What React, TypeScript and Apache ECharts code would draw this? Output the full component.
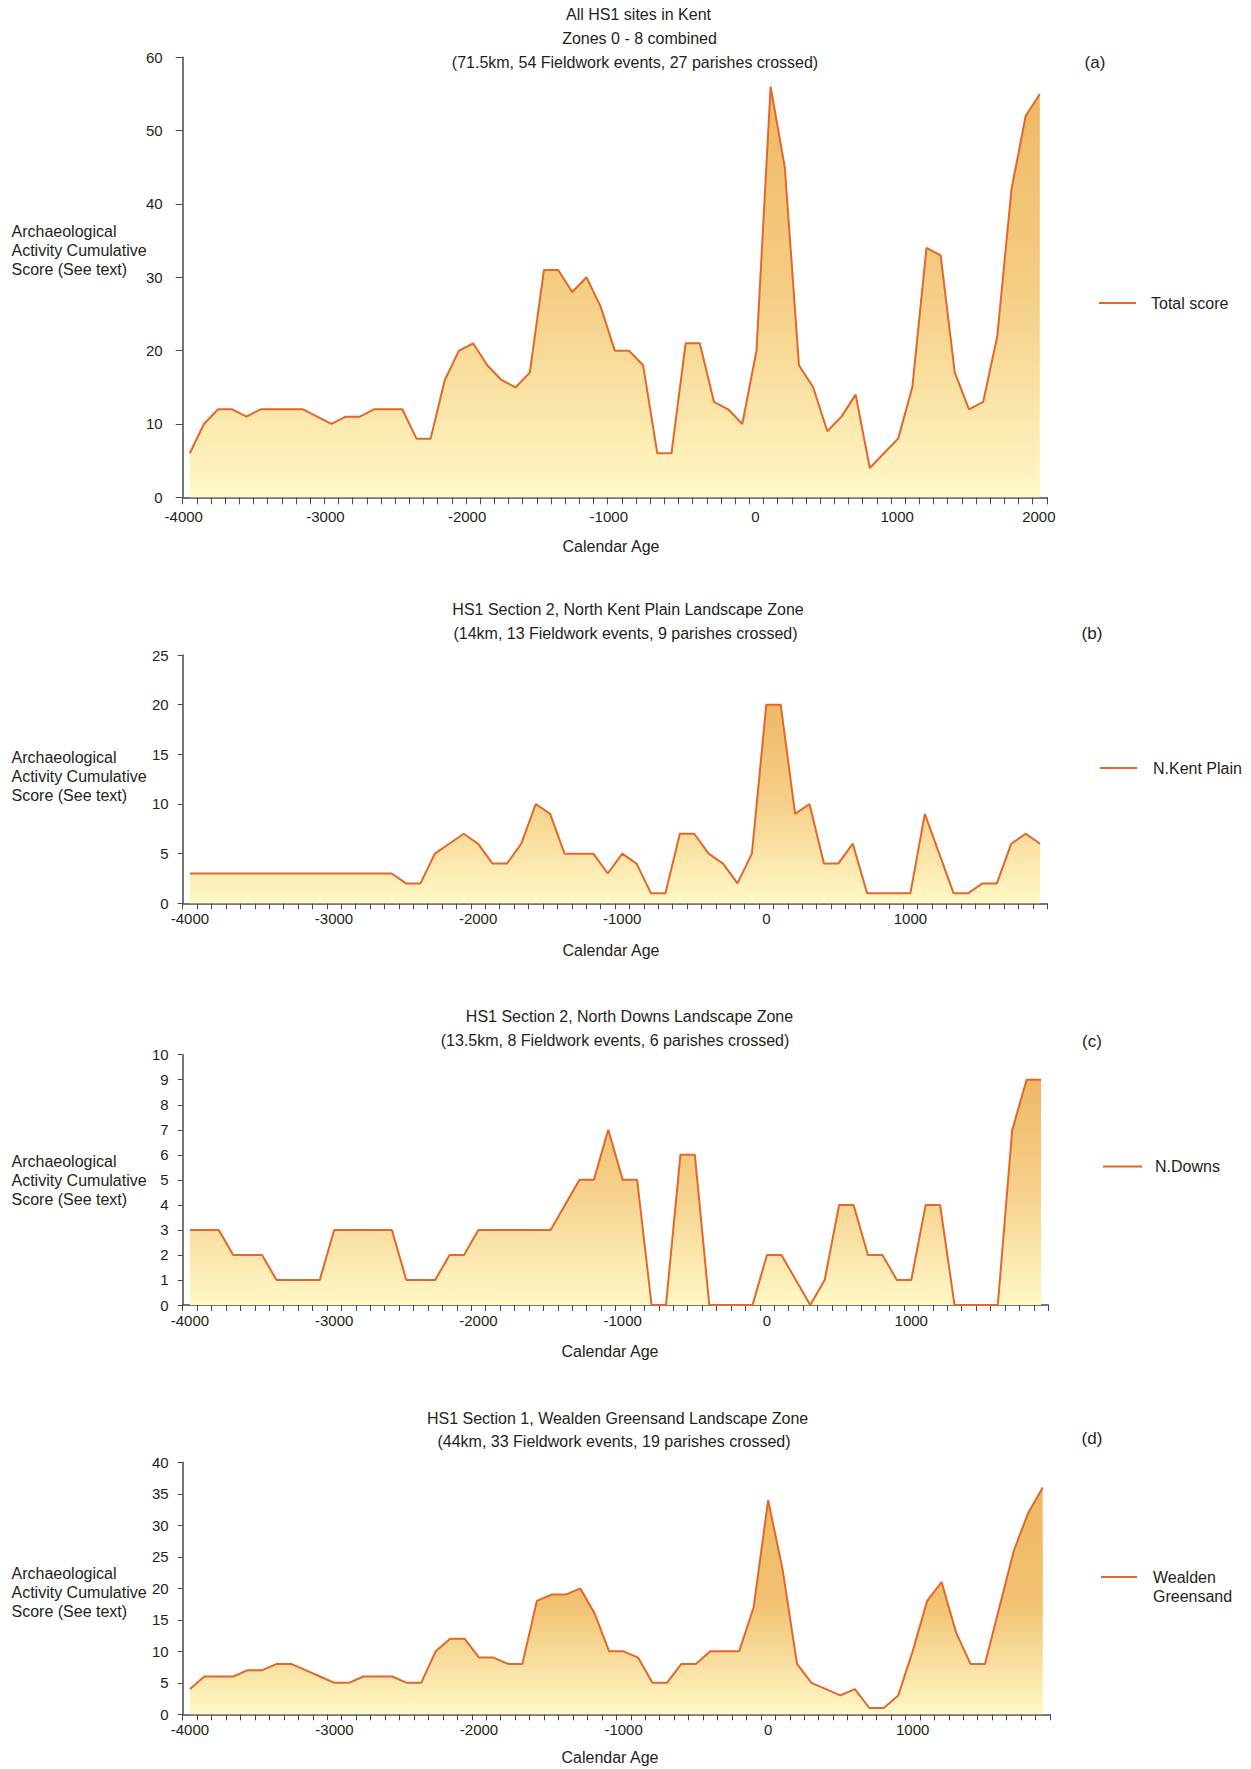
import React, { useEffect, useRef } from "react";
import * as echarts from "echarts";

// Calendar age categories (100-year bins)
const YEARS_A = [
  -4000, -3900, -3800, -3700, -3600, -3500, -3400, -3300, -3200, -3100,
  -3000, -2900, -2800, -2700, -2600, -2500, -2400, -2300, -2200, -2100,
  -2000, -1900, -1800, -1700, -1600, -1500, -1400, -1300, -1200, -1100,
  -1000, -900, -800, -700, -600, -500, -400, -300, -200, -100,
  0, 100, 200, 300, 400, 500, 600, 700, 800, 900,
  1000, 1100, 1200, 1300, 1400, 1500, 1600, 1700, 1800, 1900,
  2000,
];
const YEARS_BCD = YEARS_A.slice(0, 60);

// (a) All HS1 sites in Kent – Total score
const TOTAL_SCORE = [
  6, 10, 12, 12, 11, 12, 12, 12, 12, 11,
  10, 11, 11, 12, 12, 12, 8, 8, 16, 20,
  21, 18, 16, 15, 17, 31, 31, 28, 30, 26,
  20, 20, 18, 6, 6, 21, 21, 13, 12, 10,
  20, 56, 45, 18, 15, 9, 11, 14, 4, 6,
  8, 15, 34, 33, 17, 12, 13, 22, 42, 52,
  55,
];
// (b) North Kent Plain
const NKENT_PLAIN = [
  3, 3, 3, 3, 3, 3, 3, 3, 3, 3,
  3, 3, 3, 3, 3, 2, 2, 5, 6, 7,
  6, 4, 4, 6, 10, 9, 5, 5, 5, 3,
  5, 4, 1, 1, 7, 7, 5, 4, 2, 5,
  20, 20, 9, 10, 4, 4, 6, 1, 1, 1,
  1, 9, 5, 1, 1, 2, 2, 6, 7, 6,
];
// (c) North Downs
const NDOWNS = [
  3, 3, 3, 2, 2, 2, 1, 1, 1, 1,
  3, 3, 3, 3, 3, 1, 1, 1, 2, 2,
  3, 3, 3, 3, 3, 3, 4, 5, 5, 7,
  5, 5, 0, 0, 6, 6, 0, 0, 0, 0,
  2, 2, 1, 0, 1, 4, 4, 2, 2, 1,
  1, 4, 4, 0, 0, 0, 0, 7, 9, 9,
];
// (d) Wealden Greensand
const WEALDEN = [
  4, 6, 6, 6, 7, 7, 8, 8, 7, 6,
  5, 5, 6, 6, 6, 5, 5, 10, 12, 12,
  9, 9, 8, 8, 18, 19, 19, 20, 16, 10,
  10, 9, 5, 5, 8, 8, 10, 10, 10, 17,
  34, 23, 8, 5, 4, 3, 4, 1, 1, 3,
  10, 18, 21, 13, 8, 8, 17, 26, 32, 36,
];

const SERIES_NAMES = ["Total score", "N.Kent Plain", "N.Downs", "Wealden Greensand"];
const Y_TITLE = "Archaeological\nActivity Cumulative\nScore (See text)";
const X_TITLE = "Calendar Age";
const PANEL_LETTERS = ["(a)", "(b)", "(c)", "(d)"];
const TITLE_LINES = [
  ["All HS1 sites in Kent", "Zones 0 - 8 combined", "(71.5km, 54 Fieldwork events, 27 parishes crossed)"],
  ["HS1 Section 2, North Kent Plain Landscape Zone", "(14km, 13 Fieldwork events, 9 parishes crossed)"],
  ["HS1 Section 2, North Downs Landscape Zone", "(13.5km, 8 Fieldwork events, 6 parishes crossed)"],
  ["HS1 Section 1, Wealden Greensand Landscape Zone", "(44km, 33 Fieldwork events, 19 parishes crossed)"],
];
const Y_MAX = [60, 25, 10, 40];
const Y_INTERVAL = [10, 5, 1, 5];

const FONT = "'Liberation Sans', Arial, Helvetica, sans-serif";
const TEXT = "#231f20";
const AXIS = "#4a4a4a";
const LINE = "#e3662a";

// layout
const GRIDS = [
  { left: 182.7, top: 57.3, width: 864.2, height: 440 },
  { left: 182.7, top: 655, width: 864.6, height: 248.3 },
  { left: 182.7, top: 1054.7, width: 865.6, height: 250.3 },
  { left: 182.7, top: 1462.3, width: 867.3, height: 252 },
];
const TITLE_POS = [
  [[638.5, 14.7], [639.5, 38.4], [635, 62]],
  [[628, 609.5], [625.5, 633]],
  [[629.5, 1016.5], [615, 1040]],
  [[617.6, 1418], [614, 1441.5]],
];
const LETTER_POS = [[1095, 62], [1092, 633], [1092, 1041], [1092, 1438]];
const XTITLE_POS = [[611, 546], [611, 950], [610, 1351.5], [610, 1757.5]];
const YTITLE_TOP = [222, 747.5, 1151.5, 1564];
const LEGEND_POS = [
  { left: 1099, top: 293.5, w: 37, pad: 10 },
  { left: 1100, top: 758.5, w: 37, pad: 11 },
  { left: 1103, top: 1157, w: 39, pad: 8 },
  { left: 1101, top: 1548.5, w: 36, pad: 11 },
];

function areaGradient(mid: string) {
  return new echarts.graphic.LinearGradient(0, 0, 0, 1, [
    { offset: 0, color: "#efb863" },
    { offset: 0.5, color: mid },
    { offset: 1, color: "#fff8c6" },
  ]);
}

export default function App() {
  const ref = useRef<HTMLDivElement>(null);

  useEffect(() => {
    if (!ref.current) return;
    const chart = echarts.init(ref.current, undefined, { renderer: "svg" });
    const datasets = [TOTAL_SCORE, NKENT_PLAIN, NDOWNS, WEALDEN];
    const cats = [YEARS_A, YEARS_BCD, YEARS_BCD, YEARS_BCD];
    const mids = ["#f5cd84", "#f6d08a", "#f6d18c", "#f1c171"];

    const xAxis = GRIDS.map((_, i) => ({
      type: "category",
      gridIndex: i,
      data: cats[i].map(String),
      boundaryGap: true,
      axisLine: { show: true, lineStyle: { color: AXIS, width: 1.5 } },
      axisTick: { show: true, interval: 0, length: i === 0 ? 7 : 6, lineStyle: { color: AXIS, width: 1 } },
      axisLabel: {
        show: true,
        interval: 9,
        color: TEXT,
        fontSize: 15,
        fontFamily: FONT,
        margin: i === 0 ? 12 : 8,
        formatter:
          i === 0
            ? (v: string) => (Number(v) < 0 ? "{neg|" + v + "}" : "{pos|" + v + "}")
            : undefined,
        rich:
          i === 0
            ? {
                neg: { fontSize: 15, fontFamily: FONT, color: TEXT, padding: [0, 12, 0, 0] },
                pos: { fontSize: 15, fontFamily: FONT, color: TEXT, padding: [0, 2, 0, 0] },
              }
            : undefined,
      },
      splitLine: { show: false },
    }));

    const yAxis = GRIDS.map((_, i) => ({
      type: "value",
      gridIndex: i,
      min: 0,
      max: Y_MAX[i],
      interval: Y_INTERVAL[i],
      axisLine: { show: true, lineStyle: { color: AXIS, width: 1.5 } },
      axisTick: { show: true, length: i === 0 ? 7 : 5, lineStyle: { color: AXIS, width: 1 } },
      axisLabel: { color: TEXT, fontSize: 15, fontFamily: FONT, margin: i === 0 ? 20 : 14 },
      splitLine: { show: false },
    }));

    const series = datasets.map((d, i) => ({
      name: SERIES_NAMES[i],
      type: "line",
      xAxisIndex: i,
      yAxisIndex: i,
      data: d,
      symbol: "none",
      showSymbol: false,
      color: LINE,
      itemStyle: { color: LINE },
      lineStyle: { color: LINE, width: 2 },
      areaStyle: { color: areaGradient(mids[i]), opacity: 1 },
      z: 2,
    }));

    const legend = LEGEND_POS.map((p, i) => ({
      data: [SERIES_NAMES[i]],
      left: p.left,
      top: p.top,
      padding: 0,
      icon: "rect",
      itemWidth: p.w,
      itemHeight: 2,
      selectedMode: false,
      formatter: i === 3 ? () => "\nWealden\nGreensand" : undefined,
      textStyle: {
        color: TEXT,
        fontSize: 16,
        fontFamily: FONT,
        lineHeight: 19,
        padding: [0, 0, 0, p.pad],
      },
    }));

    const graphic: any[] = [];
    TITLE_LINES.forEach((lines, i) => {
      lines.forEach((t, j) => {
        graphic.push({
          type: "text",
          x: TITLE_POS[i][j][0],
          y: TITLE_POS[i][j][1],
          style: {
            text: t,
            fill: TEXT,
            fontSize: 16,
            fontFamily: FONT,
            align: "center",
            verticalAlign: "middle",
            textAlign: "center",
            textVerticalAlign: "middle",
          },
        });
      });
      graphic.push({
        type: "text",
        x: LETTER_POS[i][0],
        y: LETTER_POS[i][1],
        style: {
          text: PANEL_LETTERS[i],
          fill: TEXT,
          fontSize: 17,
          fontFamily: FONT,
          align: "center",
          verticalAlign: "middle",
          textAlign: "center",
          textVerticalAlign: "middle",
        },
      });
      graphic.push({
        type: "text",
        x: XTITLE_POS[i][0],
        y: XTITLE_POS[i][1],
        style: {
          text: X_TITLE,
          fill: TEXT,
          fontSize: 16,
          fontFamily: FONT,
          align: "center",
          verticalAlign: "middle",
          textAlign: "center",
          textVerticalAlign: "middle",
        },
      });
      graphic.push({
        type: "text",
        x: 11.5,
        y: YTITLE_TOP[i],
        style: {
          text: Y_TITLE,
          fill: TEXT,
          fontSize: 16,
          fontFamily: FONT,
          lineHeight: 19,
          align: "left",
          verticalAlign: "top",
          textAlign: "left",
          textVerticalAlign: "top",
        },
      });
    });

    chart.setOption({
      animation: false,
      backgroundColor: "#ffffff",
      textStyle: { fontFamily: FONT },
      grid: GRIDS,
      xAxis,
      yAxis,
      series,
      legend,
      graphic,
    });
    return () => chart.dispose();
  }, []);

  return (
    <div
      ref={ref}
      style={{ position: "absolute", left: 0, top: 0, width: 1251, height: 1769, background: "#fff" }}
    />
  );
}
